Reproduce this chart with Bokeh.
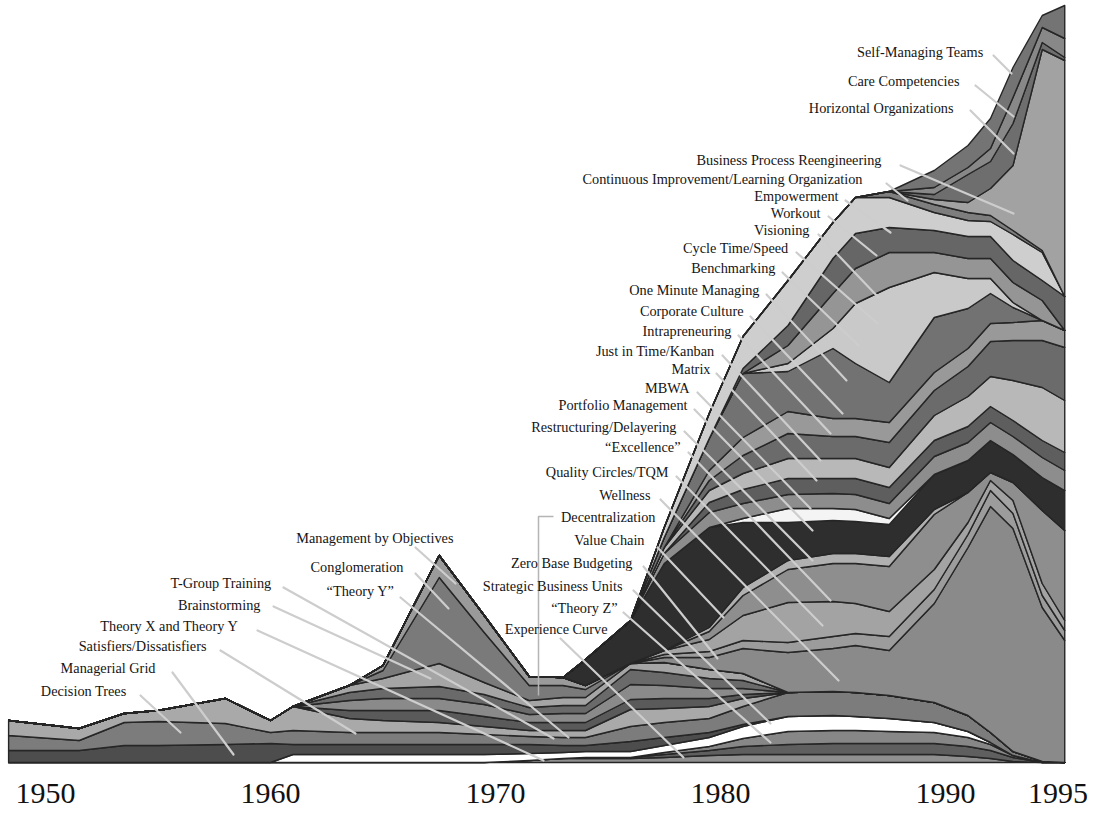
import numpy as np
from bokeh.plotting import figure
from bokeh.models import ColumnDataSource, Range1d
from bokeh.embed import file_html
from bokeh.resources import INLINE
from bokeh.core.properties import value

# ---------------- data (band thickness per concept, stacked bottom -> top) ----------------
YEARS = [1948.36, 1951.5, 1953.5, 1955, 1958, 1960, 1961, 1963.5, 1965, 1967.5, 1969.5, 1971.5, 1973, 1974,
         1976, 1977.5, 1979.5, 1981, 1983, 1985, 1986, 1987.5, 1989.5, 1991, 1992, 1993, 1994.3, 1995.3]

EXPERIENCE_CURVE = [0, 0, 0, 0, 0, 0, 0, 0, 0, 0, 0, 2, 4, 4, 4, 5, 7, 8, 8, 8, 8, 8, 8, 6, 4, 1, 0, 0]
THEORY_Z         = [0, 0, 0, 0, 0, 0, 0, 0, 0, 0, 0, 0, 0, 1, 1, 3, 5, 8, 10, 11, 11, 11, 11, 10, 8, 4, 0, 0]
STRATEGIC_BU     = [0, 0, 0, 0, 0, 0, 0, 0, 0, 0, 0, 0, 0, 0, 0, 2, 4, 8, 13, 13, 13, 12, 11, 9, 6, 2, 0, 0]
DECENTRALIZATION = [0, 0, 0, 0, 0, 0, 8, 8, 8, 8, 8, 7, 6, 6, 6, 7, 9, 12, 15, 15, 14, 13, 10, 6, 2, 0, 0, 0]
MANAGERIAL_GRID  = [12, 12, 17, 17, 18, 19, 10, 10, 10, 10, 10, 9, 7, 6, 10, 8, 5, 2, 0, 0, 0, 0, 0, 0, 0, 0, 0, 0]
DECISION_TREES   = [15, 10, 23, 24, 21, 11, 14, 12, 12, 12, 10, 8, 8, 8, 15, 15, 14, 18, 24, 24, 24, 23, 20, 16, 10, 4, 1, 0]
SATISFIERS       = [15, 12, 9, 11, 25, 12, 24, 14, 12, 10, 8, 6, 7, 7, 17, 14, 12, 8, 0, 0, 0, 0, 0, 0, 0, 0, 0, 0]
THEORY_X_Y       = [0, 0, 0, 0, 0, 0, 0, 8, 10, 12, 10, 8, 8, 8, 10, 10, 8, 4, 0, 0, 0, 0, 0, 0, 0, 0, 0, 0]
BRAINSTORMING    = [0, 0, 0, 0, 0, 0, 0, 10, 12, 12, 12, 8, 9, 9, 15, 13, 10, 6, 0, 0, 0, 0, 0, 0, 0, 0, 0, 0]
T_GROUP          = [0, 0, 0, 0, 0, 0, 0, 8, 10, 12, 10, 7, 8, 8, 15, 13, 10, 8, 0, 0, 0, 0, 0, 0, 0, 0, 0, 0]
THEORY_Y         = [0, 0, 0, 0, 0, 0, 0, 7, 10, 23, 12, 7, 8, 8, 6, 10, 9, 7, 0, 0, 0, 0, 0, 0, 0, 0, 0, 0]
CONGLOMERATION   = [0, 0, 0, 0, 0, 0, 0, 0, 8, 86, 50, 15, 12, 8, 0, 0, 0, 0, 0, 0, 0, 0, 0, 0, 0, 0, 0, 0]
MBO              = [0, 0, 0, 0, 0, 0, 0, 0, 5, 22, 17, 9, 8, 4, 0, 0, 0, 0, 0, 0, 0, 0, 0, 0, 0, 0, 0, 0]
QUALITY_TQM      = [0, 0, 0, 0, 0, 0, 0, 0, 0, 0, 0, 0, 0, 0, 0, 5, 12, 25, 40, 43, 47, 45, 99, 168, 226, 223, 154, 122]
WELLNESS         = [0, 0, 0, 0, 0, 0, 0, 0, 0, 0, 0, 0, 0, 0, 0, 3, 6, 8, 10, 12, 12, 14, 14, 13, 16, 15, 12, 10]
VALUE_CHAIN      = [0, 0, 0, 0, 0, 0, 0, 0, 0, 0, 0, 0, 0, 0, 0, 4, 12, 25, 40, 35, 30, 25, 20, 12, 10, 13, 12, 10]
PORTFOLIO        = [0, 0, 0, 0, 0, 0, 0, 0, 0, 0, 0, 0, 0, 0, 0, 0, 8, 20, 33, 38, 40, 45, 55, 30, 8, 18, 73, 90]
MATRIX           = [0, 0, 0, 0, 0, 0, 0, 0, 0, 0, 0, 0, 0, 0, 0, 0, 4, 8, 9, 10, 10, 10, 5, 0, 0, 0, 0, 0]
ZERO_BASE        = [0, 0, 0, 0, 0, 0, 0, 0, 0, 0, 0, 0, 0, 26, 43, 87, 100, 65, 38, 33, 32, 32, 35, 32, 32, 28, 33, 40]
EXCELLENCE       = [0, 0, 0, 0, 0, 0, 0, 0, 0, 0, 0, 0, 0, 0, 0, 0, 0, 4, 14, 12, 12, 6, 0, 0, 0, 0, 0, 0]
RESTRUCTURING    = [0, 0, 0, 0, 0, 0, 0, 0, 0, 0, 0, 0, 0, 0, 0, 10, 15, 15, 14, 15, 15, 15, 18, 18, 18, 18, 20, 20]
MBWA             = [0, 0, 0, 0, 0, 0, 0, 0, 0, 0, 0, 0, 0, 0, 0, 0, 10, 14, 16, 15, 16, 16, 16, 16, 16, 16, 17, 18]
JUST_IN_TIME     = [0, 0, 0, 0, 0, 0, 0, 0, 0, 0, 0, 0, 0, 0, 0, 6, 12, 16, 20, 20, 20, 20, 25, 30, 30, 40, 53, 52]
INTRAPRENEURING  = [0, 0, 0, 0, 0, 0, 0, 0, 0, 0, 0, 0, 0, 0, 0, 0, 10, 18, 25, 22, 22, 25, 25, 30, 35, 40, 47, 53]
CORPORATE_CULT   = [0, 0, 0, 0, 0, 0, 0, 0, 0, 0, 0, 0, 0, 0, 0, 0, 10, 18, 22, 18, 18, 20, 18, 18, 18, 18, 20, 17]
ONE_MINUTE       = [0, 0, 0, 0, 0, 0, 0, 0, 0, 0, 0, 0, 0, 0, 0, 10, 32, 64, 40, 70, 55, 40, 55, 40, 30, 15, 0, 0]
BENCHMARKING     = [0, 0, 0, 0, 0, 0, 0, 0, 0, 0, 0, 0, 0, 0, 0, 0, 0, 0, 8, 20, 60, 95, 45, 30, 15, 5, 0, 0]
CYCLE_TIME       = [0, 0, 0, 0, 0, 0, 0, 0, 0, 0, 0, 0, 0, 0, 0, 0, 0, 0, 18, 35, 35, 35, 20, 20, 20, 20, 20, 0]
VISIONING        = [0, 0, 0, 0, 0, 0, 0, 0, 0, 0, 0, 0, 0, 0, 0, 0, 0, 5, 20, 35, 35, 25, 22, 22, 22, 22, 20, 34]
EMPOWERMENT      = [0, 0, 0, 0, 0, 0, 0, 0, 0, 0, 0, 0, 0, 0, 0, 10, 25, 32, 45, 36, 36, 30, 18, 16, 15, 26, 28, 0]
CONT_IMPROVEMENT = [0, 0, 0, 0, 0, 0, 0, 0, 0, 0, 0, 0, 0, 0, 0, 0, 0, 0, 0, 0, 0, 6, 8, 8, 6, 4, 2, 0]
REENGINEERING    = [0, 0, 0, 0, 0, 0, 0, 0, 0, 0, 0, 0, 0, 0, 0, 0, 0, 0, 0, 0, 0, 0, 5, 10, 27, 65, 201, 236]
HORIZONTAL_ORG   = [0, 0, 0, 0, 0, 0, 0, 0, 0, 0, 0, 0, 0, 0, 0, 0, 0, 0, 0, 0, 0, 0, 5, 28, 27, 42, 7, 3]
CARE_COMPETENCE  = [0, 0, 0, 0, 0, 0, 0, 0, 0, 0, 0, 0, 0, 0, 0, 0, 0, 0, 0, 0, 0, 0, 7, 7, 13, 26, 15, 19]
SELF_MANAGING    = [0, 0, 0, 0, 0, 0, 0, 0, 0, 0, 0, 0, 0, 0, 0, 0, 0, 0, 0, 0, 0, 0, 17, 22, 30, 30, 12, 33]

STACK = [EXPERIENCE_CURVE, THEORY_Z, STRATEGIC_BU, DECENTRALIZATION, MANAGERIAL_GRID, DECISION_TREES,
         SATISFIERS, THEORY_X_Y, BRAINSTORMING, T_GROUP, THEORY_Y, CONGLOMERATION, MBO, QUALITY_TQM,
         WELLNESS, VALUE_CHAIN, PORTFOLIO, MATRIX, ZERO_BASE, EXCELLENCE, RESTRUCTURING, MBWA,
         JUST_IN_TIME, INTRAPRENEURING, CORPORATE_CULT, ONE_MINUTE, BENCHMARKING, CYCLE_TIME, VISIONING,
         EMPOWERMENT, CONT_IMPROVEMENT, REENGINEERING, HORIZONTAL_ORG, CARE_COMPETENCE, SELF_MANAGING]

YEAR_TICKS = [1950, 1960, 1970, 1980, 1990, 1995]

LABELS = ["Self-Managing Teams", "Care Competencies", "Horizontal Organizations",
          "Business Process Reengineering", "Continuous Improvement/Learning Organization",
          "Empowerment", "Workout", "Visioning", "Cycle Time/Speed", "Benchmarking",
          "One Minute Managing", "Corporate Culture", "Intrapreneuring", "Just in Time/Kanban",
          "Matrix", "MBWA", "Portfolio Management", "Restructuring/Delayering", "\u201cExcellence\u201d",
          "Quality Circles/TQM", "Wellness", "Decentralization", "Value Chain", "Zero Base Budgeting",
          "Strategic Business Units", "\u201cTheory Z\u201d", "Experience Curve",
          "Management by Objectives", "Conglomeration", "\u201cTheory Y\u201d", "T-Group Training",
          "Brainstorming", "Theory X and Theory Y", "Satisfiers/Dissatisfiers", "Managerial Grid",
          "Decision Trees"]

# ---------------- styles / layout ----------------
FILLS = ["#8f8f8f", "#5f5f5f", "#878787", "#ffffff", "#4d4d4d", "#7c7c7c",
         "#a9a9a9", "#5a5a5a", "#8a8a8a", "#6a6a6a", "#a5a5a5", "#7a7a7a", "#9a9a9a", "#8a8a8a",
         "#9c9c9c", "#a3a3a3", "#8e8e8e", "#b0b0b0", "#2e2e2e", "#f4f4f4", "#8d8d8d", "#5e5e5e",
         "#b8b8b8", "#6b6b6b", "#999999", "#727272", "#c9c9c9", "#959595", "#666666",
         "#cecece", "#7e7e7e", "#a2a2a2", "#6e6e6e", "#888888", "#747474"]

# label right end / vertical centre, in picture pixels
LABEL_POS = [(983, 51), (959, 80), (953, 107), (881, 159), (862, 178), (838, 195), (820, 212),
             (809, 229), (788, 247), (775, 267), (759, 289), (743, 310), (731, 330), (714, 350),
             (710, 368), (689, 387), (687, 404), (676, 426), (680, 446), (668, 471), (650, 494),
             (655, 516), (644, 539), (632, 562), (622, 585), (617, 607), (607, 628),
             (453, 537), (403, 566), (394, 590), (271, 582), (260, 604), (238, 625), (206, 645),
             (155, 667), (126, 690)]

# leader lines (start, end) in picture pixels; None = bracket instead
LEADERS = [((993, 55), (1011, 73)), ((975, 85), (1013, 116)), ((970, 110), (1013, 153)),
           ((900, 165), (1013, 213)), ((886, 183), (907, 200)), ((845, 200), (890, 232)),
           ((828, 216), (876, 255)), ((818, 234), (878, 297)), ((796, 252), (877, 323)),
           ((782, 272), (858, 345)), ((766, 294), (846, 380)), ((750, 316), (842, 413)),
           ((738, 335), (830, 433)), ((722, 355), (820, 460)), ((716, 373), (816, 480)),
           ((697, 392), (810, 508)), ((694, 409), (812, 530)), ((684, 431), (812, 560)),
           ((688, 452), (830, 600)), ((676, 476), (822, 625)), ((660, 499), (838, 680)),
           None, ((657, 547), (723, 617)), ((643, 566), (717, 658)),
           ((633, 590), (770, 723)), ((623, 612), (770, 742)), ((560, 638), (683, 757)),
           ((415, 547), (455, 583)), ((415, 573), (448, 608)), ((400, 597), (568, 737)),
           ((283, 587), (553, 738)), ((273, 606), (430, 678)), ((257, 630), (543, 760)),
           ((220, 650), (355, 733)), ((172, 672), (233, 754)), ((140, 695), (180, 732))]
BRACKET = [(553, 516), (538, 516), (538, 695)]

PX_PER_YEAR = 22.5
X_LEFT = 1948.0          # year at the picture's left edge (1950 sits at x = 45 px)
BASELINE_PX = 762        # picture row of the zero line
W, H = 1089, 809


def sx(px):
    return X_LEFT + px / PX_PER_YEAR


def sy(py):
    return BASELINE_PX - py


p = figure(width=W, height=H, x_range=Range1d(X_LEFT, X_LEFT + W / PX_PER_YEAR),
           y_range=Range1d(BASELINE_PX - H, BASELINE_PX), x_axis_type=None, y_axis_type=None,
           toolbar_location=None, output_backend="svg", min_border=0)
p.outline_line_color = None
p.background_fill_color = "white"
p.border_fill_color = "white"

cum = np.zeros(len(YEARS))
xs, ys = [], []
for vals in STACK:
    lo = cum.copy()
    cum = cum + np.array(vals, dtype=float)
    xs.append(list(YEARS) + list(YEARS[::-1]))
    ys.append(list(cum) + list(lo[::-1]))

p.patches(xs="xs", ys="ys", source=ColumnDataSource(dict(xs=xs, ys=ys, fill=FILLS)),
          fill_color="fill", line_color="#262626", line_width=1.4, line_join="round")

# leader lines
x0, y0, x1, y1 = [], [], [], []
for ld in LEADERS:
    if ld is None:
        continue
    (a, b), (c, d) = ld
    x0.append(sx(a)); y0.append(sy(b)); x1.append(sx(c)); y1.append(sy(d))
p.segment(x0=x0, y0=y0, x1=x1, y1=y1, line_color="#cdcdcd", line_width=2.2, line_cap="round")
p.line(x=[sx(a) for a, _ in BRACKET], y=[sy(b) for _, b in BRACKET], line_color="#b5b5b5", line_width=1.5)

# labels
p.text(x=[sx(a) for a, _ in LABEL_POS], y=[sy(b) for _, b in LABEL_POS], text=LABELS,
       text_align="right", text_baseline="middle", text_font=value("Liberation Serif"),
       text_font_size="14.3px", text_color="#151515")

# year labels
p.text(x=YEAR_TICKS, y=[sy(793)] * len(YEAR_TICKS), text=[str(t) for t in YEAR_TICKS],
       text_align="center", text_baseline="middle", text_font=value("Liberation Serif"),
       text_font_size="30px", text_color="#111111")

open("out.html", "w").write(file_html(p, INLINE))
